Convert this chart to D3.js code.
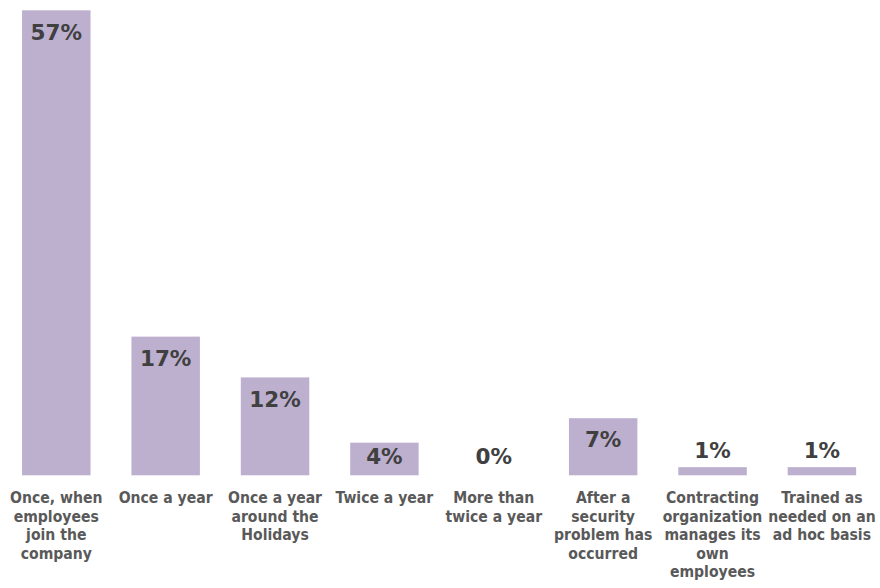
<!DOCTYPE html>
<html>
<head>
<meta charset="utf-8">
<script src="https://cdn.jsdelivr.net/npm/d3@7"></script>
<style>
  html, body { margin: 0; padding: 0; background: #fff; }
  svg { display: block; }
  .val { font-family: "DejaVu Sans", sans-serif; font-weight: bold; fill: #404040; }
  .cat { font-family: "DejaVu Sans Condensed", "DejaVu Sans", sans-serif; font-stretch: condensed; font-weight: bold; fill: #595959; }
</style>
</head>
<body>
<svg id="chart" width="880" height="588"></svg>
<script>
// Training frequency categories, one array of wrapped lines per bar
const categories = [
  ["Once, when", "employees", "join the", "company"],
  ["Once a year"],
  ["Once a year", "around the", "Holidays"],
  ["Twice a year"],
  ["More than", "twice a year"],
  ["After a", "security", "problem has", "occurred"],
  ["Contracting", "organization", "manages its", "own", "employees"],
  ["Trained as", "needed on an", "ad hoc basis"]
];
// Share of respondents, in percent
const values = [57, 17, 12, 4, 0, 7, 1, 1];

const baseY = 475.3, topY = 10.3;

const svg = d3.select("#chart");

const x = d3.scaleBand()
  .domain(d3.range(categories.length))
  .range([1.6, 876.6])
  .paddingInner(0.374)
  .paddingOuter(0.187);

const y = d3.scaleLinear()
  .domain([0, d3.max(values)])
  .range([baseY, topY]);

// Bars
svg.append("g")
  .selectAll("rect")
  .data(values)
  .join("rect")
  .attr("x", (d, i) => x(i))
  .attr("y", d => y(d))
  .attr("width", x.bandwidth())
  .attr("height", d => baseY - y(d))
  .attr("fill", "#bdb0cf");

// Value labels: inside the bar end when it fits, otherwise just above the bar
const labelFloor = 464;
svg.append("g")
  .selectAll("text")
  .data(values)
  .join("text")
  .attr("class", "val")
  .attr("x", (d, i) => x(i) + x.bandwidth() / 2)
  .attr("y", d => d >= 4 ? Math.min(y(d) + 29.3, labelFloor) : Math.min(y(d) - 9, labelFloor))
  .attr("text-anchor", "middle")
  .attr("font-size", 21.5)
  .text(d => d + "%");

// Category axis labels
const lineH = 18.4;
const cats = svg.append("g")
  .selectAll("text")
  .data(categories)
  .join("text")
  .attr("class", "cat")
  .attr("text-anchor", "middle")
  .attr("font-size", 15.6)
  .attr("x", (d, i) => x(i) + x.bandwidth() / 2)
  .attr("y", 503.3);

cats.selectAll("tspan")
  .data(d => d)
  .join("tspan")
  .attr("x", function () { return this.parentNode.getAttribute("x"); })
  .attr("dy", (d, j) => j === 0 ? 0 : lineH)
  .text(d => d);
</script>
</body>
</html>
